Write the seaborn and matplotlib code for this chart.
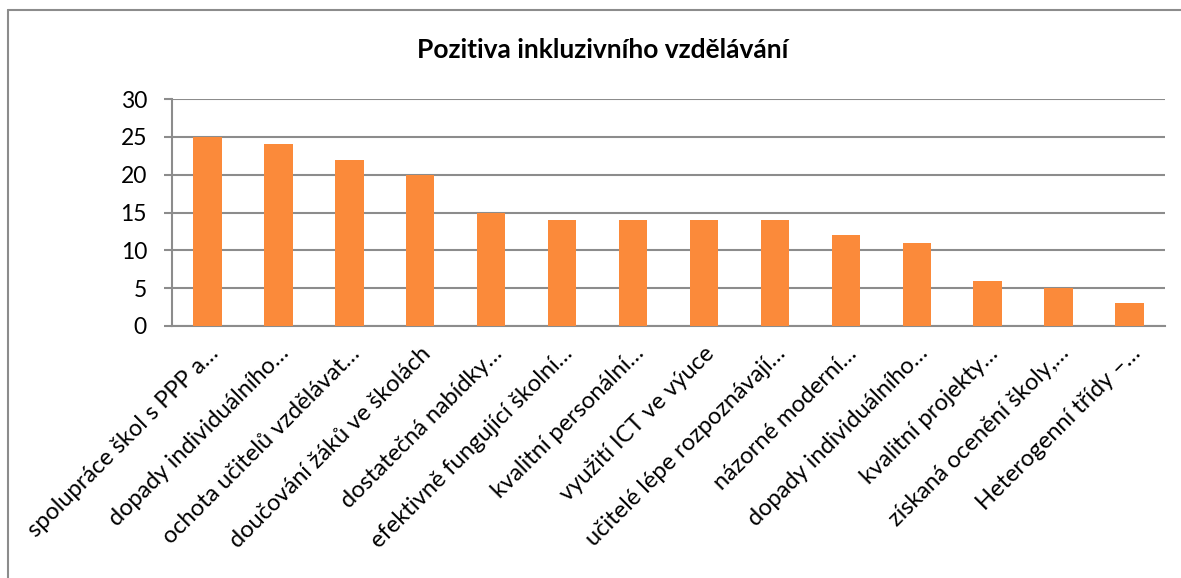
import numpy as np
import pandas as pd
import matplotlib
matplotlib.use("Agg")
import matplotlib.pyplot as plt
from matplotlib.lines import Line2D
import seaborn as sns

CATEGORIES = [
    "spolupráce škol s PPP a…",
    "dopady individuálního…",
    "ochota učitelů vzdělávat…",
    "doučování žáků ve školách",
    "dostatečná nabídky…",
    "efektivně fungující školní…",
    "kvalitní personální…",
    "využití ICT ve výuce",
    "učitelé lépe rozpoznávají…",
    "názorné moderní…",
    "dopady individuálního…",
    "kvalitní projekty…",
    "získaná ocenění školy,…",
    "Heterogenní třídy –…",
]
VALUES = [25, 24, 22, 20, 15, 14, 14, 14, 14, 12, 11, 6, 5, 3]
Y_TICKS = [0, 5, 10, 15, 20, 25, 30]
TITLE = "Pozitiva inkluzivního vzdělávání"

BAR_COLOR = "#FB8A3A"
GRID_COLOR = "#8C8C8C"

sns.set_style("white")
plt.rcParams["font.family"] = ["Lato", "DejaVu Sans"]
plt.rcParams["text.color"] = "black"
plt.rcParams["xtick.labelcolor"] = "black"
plt.rcParams["ytick.labelcolor"] = "black"

df = pd.DataFrame({"pos": [str(i) for i in range(len(VALUES))], "value": VALUES})

fig = plt.figure(figsize=(11.81, 5.78), dpi=100)
ax = fig.add_axes([172 / 1181, 1 - 326 / 578, (1165 - 172) / 1181, (326 - 99) / 578])

sns.barplot(data=df, x="pos", y="value", color=BAR_COLOR, width=0.4,
            saturation=1, linewidth=0, ax=ax, zorder=3)

ax.set_ylim(0, 30)
ax.set_xlim(-0.5, len(VALUES) - 0.5)
ax.set_yticks(Y_TICKS)
ax.set_yticklabels([str(t) for t in Y_TICKS], fontsize=16.5)
ax.yaxis.grid(True, color=GRID_COLOR, linewidth=1.5, zorder=0)
ax.set_axisbelow(True)

ax.set_xticks(range(len(VALUES)))
ax.set_xticklabels(CATEGORIES, rotation=45, ha="right", rotation_mode="anchor",
                   fontsize=17)
ax.tick_params(axis="x", which="major", length=0, pad=12)
ax.set_xticks(np.arange(-0.5, len(VALUES)), minor=True)
ax.tick_params(axis="x", which="minor", length=6, width=1.5, color=GRID_COLOR,
               direction="out")
ax.tick_params(axis="y", length=6, width=1.5, color=GRID_COLOR, direction="out",
               left=True, pad=12)
ax.set_xlabel("")
ax.set_ylabel("")

for side in ["top", "right"]:
    ax.spines[side].set_visible(False)
for side in ["left", "bottom"]:
    ax.spines[side].set_color(GRID_COLOR)
    ax.spines[side].set_linewidth(1.5)

fig.text(603 / 1181, 1 - 50 / 578, TITLE, ha="center", va="center",
         fontsize=19, fontweight="bold")

# chart border (runs off the right and bottom edge)
fig.add_artist(Line2D([8 / 1181, 1.0], [1 - 10 / 578, 1 - 10 / 578],
                      transform=fig.transFigure, color=GRID_COLOR, linewidth=1.5))
fig.add_artist(Line2D([8 / 1181, 8 / 1181], [1 - 10 / 578, 0.0],
                      transform=fig.transFigure, color=GRID_COLOR, linewidth=1.5))

fig.savefig("out.png", dpi=100)
